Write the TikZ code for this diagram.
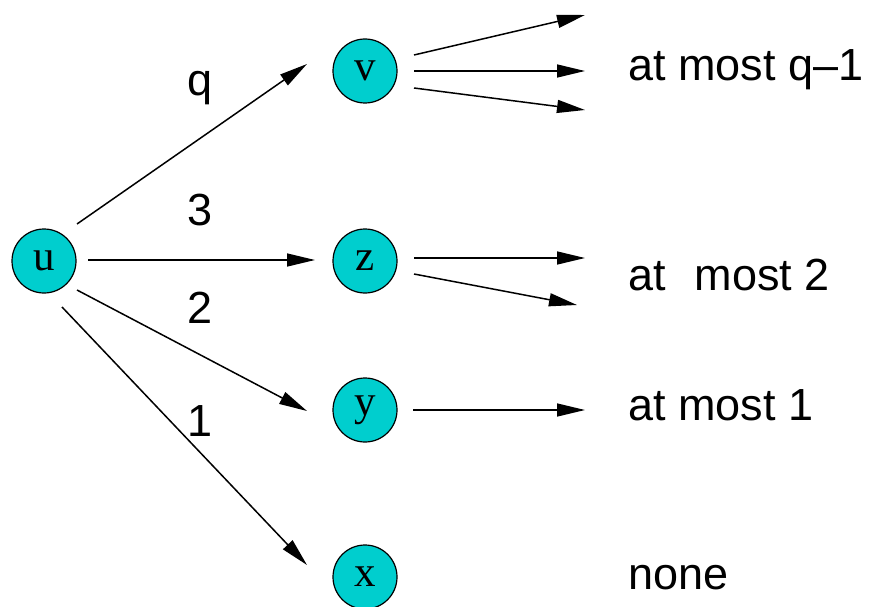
\documentclass[tikz,border=0pt]{standalone}
\usepackage{fontspec}
\setmainfont{Liberation Serif}
\newfontfamily\arialfont{Liberation Sans}
\usetikzlibrary{arrows.meta}
\definecolor{nodecyan}{RGB}{0,206,206}
\begin{document}
\begin{tikzpicture}[x=1pt,y=-1pt,
  vert/.style={circle,draw=black,line width=1.2pt,fill=nodecyan,minimum size=64pt,inner sep=0pt,font=\fontsize{43}{43}\selectfont},
  arr/.style={line width=1.5pt,-{Triangle[length=28pt,width=13pt]}},
  lbl/.style={font=\arialfont\fontsize{45}{45}\selectfont,anchor=base,inner sep=0pt},
  rlbl/.style={font=\arialfont\fontsize{45}{45}\selectfont,anchor=base west,inner sep=0pt}]
\useasboundingbox (0,0) rectangle (872,607);
\node[vert] (u) at (44,261) {u};
\node[vert] (v) at (365,71) {v};
\node[vert] (z) at (365,261) {z};
\node[vert] (y) at (365,410) {y};
\node[vert] (x) at (365,577) {x};
% edges from u
\draw[arr] ([shift={(33,-37)}]u.center) -- ([shift={(-58,-7)}]v.center);
\draw[arr] ([shift={(44,-1)}]u.center) -- ([shift={(-50,-1)}]z.center);
\draw[arr] ([shift={(33,29)}]u.center) -- ([shift={(-58,1)}]y.center);
\draw[arr] ([shift={(18,46)}]u.center) -- ([shift={(-58,-12)}]x.center);
% edge labels
\node[lbl] (lq) at (200,96) {q};
\node[lbl] (l3) at (200,225) {3};
\node[lbl] (l2) at (200,323) {2};
\node[lbl] (l1) at (200,436) {1};
% free ends
\coordinate (v1) at (585,15);
\coordinate (v2) at (585,71);
\coordinate (v3) at (585,110);
\coordinate (z1) at (585,258);
\coordinate (z2) at (577,305);
\coordinate (y1) at (585,410);
\draw[arr] ([shift={(49,-16)}]v.center) -- (v1);
\draw[arr] ([shift={(49,0)}]v.center) -- (v2);
\draw[arr] ([shift={(49,17)}]v.center) -- (v3);
\draw[arr] ([shift={(49,-3)}]z.center) -- (z1);
\draw[arr] ([shift={(49,13)}]z.center) -- (z2);
\draw[arr] ([shift={(48,0)}]y.center) -- (y1);
% right labels
\node[rlbl] (tv) at (628,81) {at most q\textendash1};
\node[rlbl] (tz) at (628,290) {at\hspace{29pt}most 2};
\node[rlbl] (ty) at (628,420) {at most 1};
\node[rlbl] (tx) at (628,589) {none};
\end{tikzpicture}
\end{document}
